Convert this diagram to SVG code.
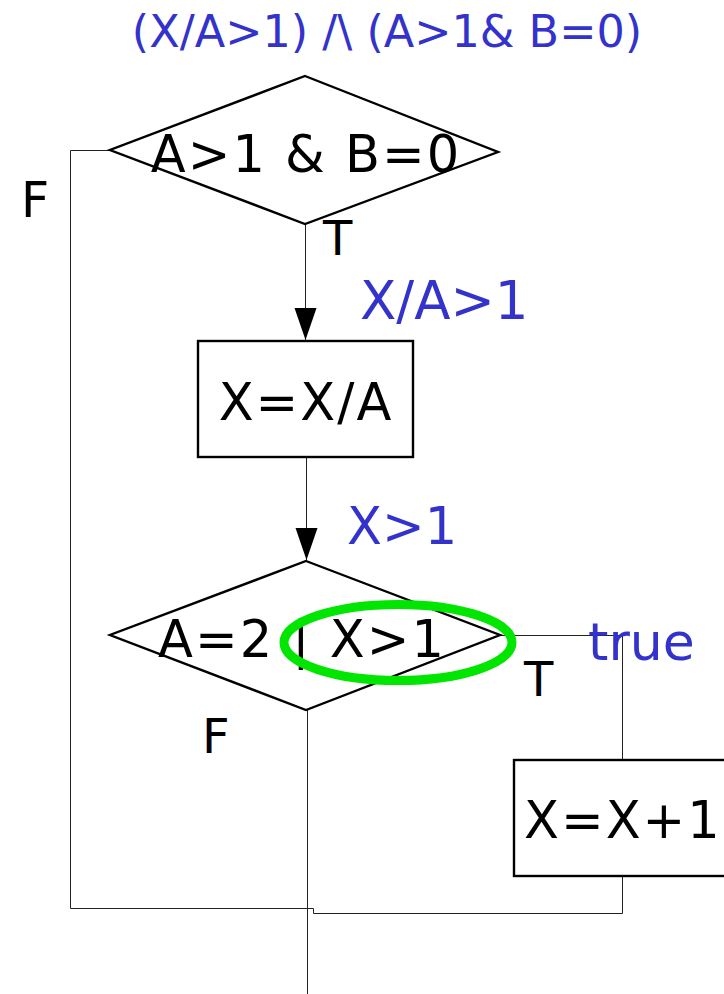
<svg xmlns="http://www.w3.org/2000/svg" width="724" height="994" viewBox="0 0 724 994">
<style>
.shape{fill:#fff;stroke:#000;stroke-width:2.4}
.conn{fill:none;stroke:#222;stroke-width:1}
.t{font-family:"DejaVu Sans",Verdana,sans-serif;fill:#000}
.n{letter-spacing:2px}
.b{font-family:"DejaVu Sans",Verdana,sans-serif;fill:#3333cc}
</style>
<defs>
<marker id="arr" markerUnits="userSpaceOnUse" markerWidth="34" markerHeight="24" refX="32" refY="11" orient="auto">
<path d="M0,0 L32,11 L0,22 Z" fill="#000"/>
</marker>
</defs>
<rect width="724" height="994" fill="#fff"/>
<text class="b" x="387" y="47" font-size="44.5" text-anchor="middle">(X/A&gt;1) /\ (A&gt;1&amp; B=0)</text>
<g id="connectors">
<path class="conn" d="M305.5,224 L305.5,340" marker-end="url(#arr)"/>
<path class="conn" d="M306.5,457 L306.5,560" marker-end="url(#arr)"/>
<path class="conn" d="M110,150.5 L70.5,150.5 L70.5,908.5 L313.5,908.5 L313.5,913.5 L622.5,913.5 L622.5,876"/>
<path class="conn" d="M500,635.5 L622.5,635.5 L622.5,760"/>
<path class="conn" d="M307.5,710 L307.5,994"/>
</g>
<g id="d1">
<polygon class="shape" points="305,76 498,152 305,224 110,150"/>
<text class="t n" x="306" y="172" font-size="51" text-anchor="middle">A&gt;1 &amp; B=0</text>
</g>
<g id="b1">
<rect class="shape" x="198" y="341" width="215" height="116"/>
<text class="t n" x="306" y="420" font-size="51" text-anchor="middle">X=X/A</text>
</g>
<g id="d2">
<polygon class="shape" points="306,561 500,635 306,710 110,635"/>
<text class="t n" x="302" y="657" font-size="51" text-anchor="middle">A=2 | X&gt;1</text>
<ellipse cx="398" cy="642.5" rx="114" ry="38" fill="none" stroke="#00e600" stroke-width="9"/>
</g>
<g id="b2">
<rect class="shape" x="514" y="760" width="220" height="116"/>
<text class="t n" x="524" y="838" font-size="51">X=X+1</text>
</g>
<g id="labels">
<text class="t" x="21" y="217" font-size="49">F</text>
<text class="t" x="323" y="255" font-size="48">T</text>
<text class="b" x="360" y="319" font-size="53">X/A&gt;1</text>
<text class="b" x="347" y="544" font-size="51">X&gt;1</text>
<text class="b" x="588" y="660" font-size="52">true</text>
<text class="t" x="524" y="696" font-size="48">T</text>
<text class="t" x="202" y="753" font-size="48">F</text>
</g>
</svg>
